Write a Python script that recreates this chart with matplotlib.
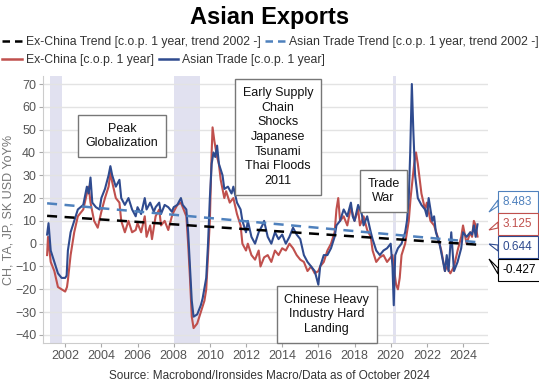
import matplotlib
matplotlib.use("Agg")
import matplotlib.pyplot as plt
from matplotlib.lines import Line2D
from matplotlib.patches import Polygon

plt.rcParams["font.family"] = ["Liberation Sans", "DejaVu Sans"]

# Asian Trade [c.o.p. 1 year] (decimal year, value)
trade_x = [2001.0, 2001.08, 2001.2, 2001.4, 2001.6, 2001.8, 2002.0, 2002.08, 2002.15, 2002.3,
           2002.5, 2002.7, 2003.0, 2003.2, 2003.3, 2003.4, 2003.5, 2003.7, 2003.9, 2004.0,
           2004.2, 2004.4, 2004.5, 2004.6, 2004.8, 2005.0, 2005.1, 2005.3, 2005.5, 2005.7,
           2005.9, 2006.0, 2006.2, 2006.4, 2006.5, 2006.7, 2006.9, 2007.0, 2007.2, 2007.3,
           2007.5, 2007.7, 2007.9, 2008.0, 2008.2, 2008.4, 2008.5, 2008.7, 2008.8, 2008.9,
           2009.0, 2009.1, 2009.3, 2009.5, 2009.6, 2009.8, 2009.9, 2010.0, 2010.1, 2010.2,
           2010.3, 2010.4, 2010.5, 2010.7, 2010.8, 2011.0, 2011.2, 2011.3, 2011.5, 2011.7,
           2011.8, 2012.0, 2012.1, 2012.3, 2012.5, 2012.7, 2012.9, 2013.0, 2013.2, 2013.4,
           2013.6, 2013.8, 2014.0, 2014.2, 2014.4, 2014.6, 2014.8, 2015.0, 2015.2, 2015.4,
           2015.6, 2015.8, 2016.0, 2016.1, 2016.3, 2016.5, 2016.7, 2016.9, 2017.0, 2017.2,
           2017.4, 2017.6, 2017.8, 2017.9, 2018.0, 2018.2, 2018.4, 2018.5, 2018.7, 2018.9,
           2019.0, 2019.2, 2019.4, 2019.6, 2019.8, 2020.0, 2020.1, 2020.17, 2020.25, 2020.4,
           2020.6, 2020.8, 2020.9, 2021.0, 2021.08, 2021.17, 2021.25, 2021.35, 2021.5, 2021.7,
           2021.9, 2022.0, 2022.1, 2022.3, 2022.4, 2022.5, 2022.7, 2022.9, 2023.0, 2023.1,
           2023.2, 2023.35, 2023.5, 2023.7, 2023.9, 2024.0, 2024.2, 2024.4, 2024.5, 2024.6,
           2024.7, 2024.8]
trade_y = [4, 9, -3, -8, -13, -15, -15, -14, -3, 5,
           10, 15, 17, 25, 22, 29, 18, 16, 15, 20,
           24, 30, 34, 30, 25, 28, 20, 17, 20, 15,
           12, 16, 13, 20, 15, 18, 14, 16, 18, 13,
           17, 16, 14, 16, 17, 20, 17, 15, 5, -10,
           -25, -32, -31, -27, -24, -15, 0, 20, 35, 40,
           38, 43, 35, 30, 24, 25, 22, 25, 18, 15,
           10, 5, 10, 3, 0, 5, 8, 10, 3, 0,
           5, 2, 4, 0, 3, 7, 4, 2, -5, -8,
           -10, -12, -18, -10, -5, -5, -2, 3, 8, 10,
           15, 12, 18, 12, 10, 17, 13, 8, 12, 5,
           2, -3, -5, -3, -2, 0, -10, -27, -5, -2,
           0, 5, 10, 20, 40, 70, 50, 30, 20, 17,
           15, 12, 20, 10, 12, 5, 0, -8, -12, -5,
           -12, 5, -12, -8, -2, 5, 3, 5, 4, 8,
           3, 8.483]

# Ex-China [c.o.p. 1 year]
exchina_x = [2001.0, 2001.05, 2001.2, 2001.4, 2001.6, 2001.8, 2002.0, 2002.1, 2002.15, 2002.3,
             2002.5, 2002.7, 2003.0, 2003.2, 2003.3, 2003.4, 2003.6, 2003.8, 2004.0, 2004.2,
             2004.4, 2004.5, 2004.6, 2004.8, 2005.0, 2005.1, 2005.3, 2005.5, 2005.7, 2005.9,
             2006.0, 2006.2, 2006.4, 2006.5, 2006.7, 2006.8, 2007.0, 2007.2, 2007.3, 2007.5,
             2007.7, 2007.9, 2008.0, 2008.2, 2008.4, 2008.5, 2008.7, 2008.8, 2008.9, 2009.0,
             2009.1, 2009.3, 2009.5, 2009.7, 2009.8, 2010.0, 2010.1, 2010.15, 2010.25, 2010.4,
             2010.5, 2010.6, 2010.8, 2010.9, 2011.1, 2011.3, 2011.5, 2011.7, 2011.8, 2012.0,
             2012.1, 2012.3, 2012.5, 2012.7, 2012.8, 2013.0, 2013.2, 2013.4, 2013.6, 2013.8,
             2014.0, 2014.2, 2014.4, 2014.6, 2014.8, 2015.0, 2015.2, 2015.4, 2015.6, 2015.8,
             2016.0, 2016.1, 2016.3, 2016.5, 2016.7, 2016.9, 2017.0, 2017.1, 2017.2, 2017.4,
             2017.6, 2017.8, 2018.0, 2018.2, 2018.3, 2018.5, 2018.7, 2018.9, 2019.0, 2019.2,
             2019.4, 2019.6, 2019.8, 2020.0, 2020.1, 2020.2, 2020.3, 2020.4, 2020.5, 2020.6,
             2020.8, 2021.0, 2021.1, 2021.3, 2021.4, 2021.5, 2021.7, 2021.9, 2022.0, 2022.2,
             2022.4, 2022.6, 2022.8, 2023.0, 2023.1, 2023.3, 2023.5, 2023.7, 2023.9, 2024.0,
             2024.2, 2024.4, 2024.5, 2024.6, 2024.7, 2024.8]
exchina_y = [-5, 3, -8, -12, -19, -20, -21, -19, -16, -5,
             5, 12, 15, 22, 25, 18, 10, 7, 14, 20,
             25, 31, 27, 20, 18, 10, 5, 10, 5, 6,
             9, 5, 12, 3, 8, 2, 12, 15, 8, 10,
             6, 12, 14, 17, 18, 16, 12, 0, -15, -32,
             -37, -35, -30, -25, -20, 10, 40, 51, 45, 38,
             35, 28, 20, 23, 18, 20, 13, 8, 0, -3,
             0, -5, -7, -3, -10, -6, -5, -8, -3, -5,
             -2, -3, 0, -2, -5, -7, -8, -12, -10, -13,
             -12, -10, -8, -3, 0, 5, 15, 20, 10, 12,
             8, 16, 10, 15, 8, 12, 6, 3, -3, -8,
             -6, -5, -8, -6, -5, -12, -18, -20, -15, -5,
             0, 10, 20, 35, 40, 35, 22, 15, 18, 10,
             8, 3, -3, -12, -10, -13, -10, -3, 3, 8,
             0, 5, 3, 10, 8, 3.125]

# trend lines (start, end)
trend_x = [2001.0, 2024.8]
exchina_trend = [12.2, -0.427]
trade_trend = [17.7, 0.644]

# recession shading
shade_spans = [(2001.15, 2001.85), (2008.0, 2009.45), (2020.12, 2020.3)]

notes = [
    (2005.15, 47.2, "Peak\nGlobalization"),
    (2013.77, 46.8, "Early Supply\nChain\nShocks\nJapanese\nTsunami\nThai Floods\n2011"),
    (2019.6, 23.1, "Trade\nWar"),
    (2016.47, -31.0, "Chinese Heavy\nIndustry Hard\nLanding"),
]

end_tags = ["8.483", "3.125", "0.644", "-0.427"]

RED = "#c0504d"
BLUE = "#2f4b8f"
LBLUE = "#4f81bd"
GRAY = "#555555"

fig = plt.figure(figsize=(5.39, 3.84), dpi=100)
ax = fig.add_axes([0.080, 0.107, 0.825, 0.695])

for a, b in shade_spans:
    ax.axvspan(a, b, color="#e1e1f0", lw=0, zorder=0)

ax.plot(trend_x, exchina_trend, color="black", lw=1.8, ls=(0, (4, 3)), zorder=3)
ax.plot(trend_x, trade_trend, color=LBLUE, lw=1.8, ls=(0, (4, 3)), zorder=3)
ax.plot(exchina_x, exchina_y, color=RED, lw=1.5, zorder=2)
ax.plot(trade_x, trade_y, color=BLUE, lw=1.5, zorder=2)

ax.set_xlim(2000.78, 2025.37)
ax.set_ylim(-43.5, 73.5)
ax.set_xticks(range(2002, 2025, 2))
ax.set_yticks(range(-40, 71, 10))
ax.grid(axis="y", color="#e3e3e3", lw=1)
ax.set_axisbelow(True)
for s in ["top", "right"]:
    ax.spines[s].set_visible(False)
for s in ["left", "bottom"]:
    ax.spines[s].set_color("#cccccc")
ax.tick_params(colors=GRAY, labelsize=9, length=3, pad=2, color="#aaaaaa")
ax.set_ylabel("CH, TA, JP, SK USD YoY%", color="#777777", fontsize=9)
ax.yaxis.set_label_coords(-0.064, 0.5)

for x, y, txt in notes:
    ax.text(x, y, txt, ha="center", va="center", fontsize=9, color="#111111",
            linespacing=1.3, zorder=5,
            bbox=dict(boxstyle="square,pad=0.6", fc="white", ec="#777777", lw=1))

# end-of-series tags (pixel positions)
tag_colors = [LBLUE, RED, BLUE, "black"]
tag_centres = [202, 224, 247, 270]
tag_tips = [212, 230, 244, 259]
W, H = 539, 384
for txt, c, yc, yt in zip(end_tags, tag_colors, tag_centres, tag_tips):
    fig.text(503 / W, 1 - yc / H, txt, color=c, fontsize=8.5, ha="left", va="center",
             bbox=dict(boxstyle="square,pad=0.45", fc="white", ec=c, lw=0.8))
    tri = [(498 / W, 1 - (yc - 2) / H), (498 / W, 1 - (yc + 4) / H), (489 / W, 1 - yt / H)]
    fig.patches.append(Polygon(tri, closed=True, fc="white", ec=c, lw=0.8,
                               transform=fig.transFigure, figure=fig))

fig.text(0.5, 0.955, "Asian Exports", ha="center", va="center", fontsize=17,
         fontweight="bold", color="black")

h1 = [Line2D([], [], color="black", lw=1.8, ls=(0, (3, 2))),
      Line2D([], [], color=LBLUE, lw=1.8, ls=(0, (3, 2)))]
l1 = ["Ex-China Trend [c.o.p. 1 year, trend 2002 -]",
      "Asian Trade Trend [c.o.p. 1 year, trend 2002 -]"]
h2 = [Line2D([], [], color=RED, lw=1.8), Line2D([], [], color=BLUE, lw=1.8)]
l2 = ["Ex-China [c.o.p. 1 year]", "Asian Trade [c.o.p. 1 year]"]
fig.legend(h1, l1, loc="center left", bbox_to_anchor=(0.0, 1 - 42 / H), ncol=2,
           frameon=False, fontsize=8.8, handlelength=1.6, handletextpad=0.3,
           columnspacing=0.4, borderaxespad=0, borderpad=0.2, labelcolor="#333333")
fig.legend(h2, l2, loc="center left", bbox_to_anchor=(0.0, 1 - 60 / H), ncol=2,
           frameon=False, fontsize=8.8, handlelength=1.6, handletextpad=0.3,
           columnspacing=0.4, borderaxespad=0, borderpad=0.2, labelcolor="#333333")

fig.text(0.5, 1 - 376 / H, "Source: Macrobond/Ironsides Macro/Data as of October 2024",
         ha="center", va="center", fontsize=8.5, color="#333333")

fig.savefig("out.png", dpi=100)
